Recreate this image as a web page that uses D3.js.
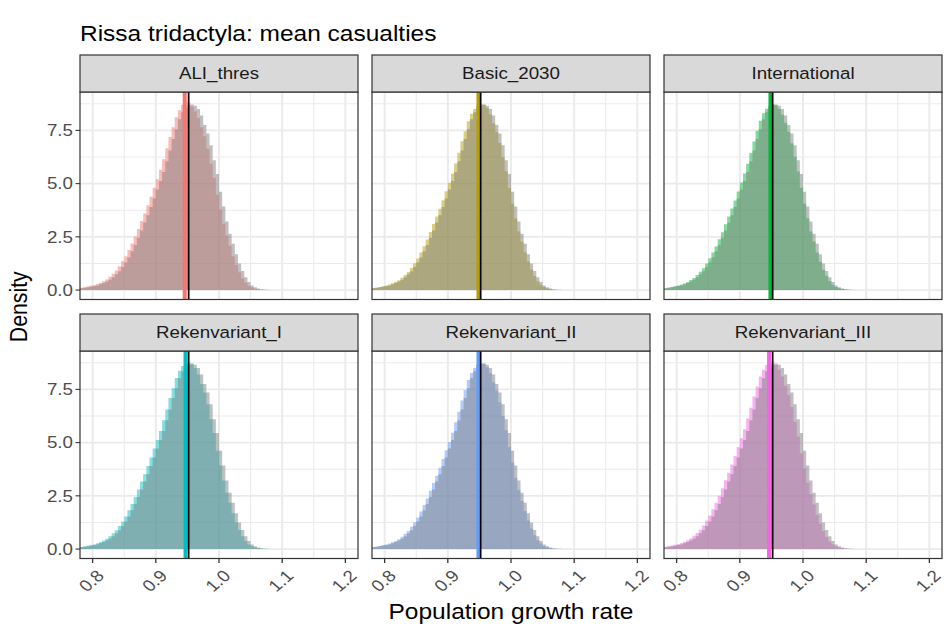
<!DOCTYPE html>
<html>
<head>
<meta charset="utf-8">
<script src="https://cdn.jsdelivr.net/npm/d3@7"></script>
<style>
  body { margin: 0; background: #ffffff; }
  text { font-family: "Liberation Sans", Arial, Helvetica, sans-serif; }
</style>
</head>
<body>
<svg id="chart" width="944" height="628"></svg>
<script>
// ---- data -----------------------------------------------------------
const scenarios = ["ALI_thres", "Basic_2030", "International",
                   "Rekenvariant_I", "Rekenvariant_II", "Rekenvariant_III"];
const scenarioColors = ["#F8766D", "#B79F00", "#00BA38", "#00BFC4", "#619CFF", "#F564E3"];

// histogram bins: first bin starts at binStart, all bins binWidth wide
const binStart = 0.78;
const binWidth = 0.005;

// density of the reference run (grey, drawn in every panel)
const baselineDensity = [
  0.08,0.10,0.13,0.16,0.19,0.22,0.27,0.33,0.40,0.48,
  0.60,0.74,0.88,1.08,1.30,1.53,1.82,2.12,2.45,2.80,
  3.17,3.52,3.90,4.30,4.72,5.12,5.55,6.05,6.55,7.10,
  7.55,8.02,8.35,8.55,8.68,8.72,8.66,8.50,8.20,7.75,
  7.35,6.80,6.10,5.45,4.62,3.92,3.22,2.65,2.18,1.68,
  1.25,0.90,0.60,0.38,0.22,0.13,0.07,0.04,0.02,0.01,0.005];

const aliThresDensity = [
  0.11,0.14,0.17,0.20,0.23,0.28,0.34,0.42,0.50,0.63,
  0.77,0.92,1.12,1.35,1.59,1.88,2.19,2.52,2.87,3.24,
  3.60,3.98,4.38,4.80,5.21,5.65,6.15,6.66,7.19,7.65,
  8.12,8.45,8.70,8.86,8.80,8.62,8.40,8.08,7.65,7.22,
  6.64,5.95,5.27,4.48,3.78,3.11,2.56,2.08,1.59,1.18,
  0.84,0.56,0.35,0.20,0.12,0.06,0.04,0.02,0.01,0.005,0.002];

const basic2030Density = [
  0.10,0.12,0.15,0.18,0.21,0.26,0.32,0.39,0.46,0.58,
  0.71,0.85,1.04,1.26,1.48,1.76,2.06,2.38,2.73,3.10,
  3.45,3.82,4.22,4.64,5.04,5.46,5.95,6.45,6.99,7.46,
  7.93,8.28,8.50,8.68,8.75,8.70,8.55,8.25,7.84,7.43,
  6.91,6.24,5.58,4.79,4.06,3.36,2.76,2.27,1.78,1.34,
  0.97,0.66,0.42,0.25,0.15,0.08,0.05,0.02,0.01,0.006,0.002];

const internationalDensity = [
  0.09,0.12,0.15,0.18,0.22,0.26,0.31,0.38,0.47,0.57,
  0.71,0.86,1.03,1.25,1.49,1.77,2.05,2.39,2.72,3.09,
  3.46,3.83,4.21,4.63,5.05,5.47,5.93,6.44,6.98,7.48,
  7.95,8.30,8.52,8.66,8.74,8.68,8.52,8.24,7.86,7.42,
  6.90,6.26,5.57,4.80,4.05,3.37,2.75,2.28,1.77,1.33,
  0.96,0.67,0.43,0.25,0.14,0.08,0.05,0.03,0.01,0.006,0.002];

const rekenvariant1Density = [
  0.10,0.13,0.16,0.19,0.22,0.27,0.33,0.40,0.48,0.60,
  0.74,0.88,1.08,1.30,1.53,1.82,2.12,2.45,2.80,3.17,
  3.52,3.90,4.30,4.72,5.12,5.55,6.05,6.55,7.10,7.55,
  8.04,8.38,8.60,8.76,8.78,8.68,8.50,8.20,7.75,7.35,
  6.80,6.10,5.45,4.62,3.92,3.22,2.65,2.18,1.68,1.25,
  0.90,0.60,0.38,0.22,0.13,0.07,0.04,0.02,0.01,0.005,0.002];

const rekenvariant2Density = [
  0.10,0.12,0.15,0.19,0.21,0.26,0.32,0.38,0.46,0.58,
  0.72,0.85,1.05,1.26,1.47,1.76,2.07,2.37,2.74,3.10,
  3.44,3.82,4.23,4.64,5.03,5.46,5.96,6.45,6.98,7.47,
  7.94,8.27,8.51,8.67,8.74,8.71,8.54,8.26,7.83,7.44,
  6.90,6.25,5.58,4.78,4.07,3.35,2.77,2.26,1.79,1.34,
  0.97,0.65,0.42,0.26,0.15,0.08,0.04,0.02,0.01,0.006,0.002];

const rekenvariant3Density = [
  0.11,0.14,0.17,0.20,0.23,0.28,0.34,0.41,0.50,0.62,
  0.76,0.91,1.11,1.34,1.58,1.87,2.18,2.51,2.86,3.23,
  3.59,3.97,4.37,4.79,5.20,5.63,6.13,6.64,7.17,7.63,
  8.10,8.42,8.66,8.82,8.80,8.64,8.42,8.10,7.67,7.24,
  6.67,5.98,5.29,4.50,3.80,3.12,2.57,2.09,1.60,1.19,
  0.85,0.57,0.35,0.21,0.12,0.06,0.04,0.02,0.01,0.005,0.002];

const scenarioDensities = [aliThresDensity, basic2030Density, internationalDensity,
                           rekenvariant1Density, rekenvariant2Density, rekenvariant3Density];

// mean growth rates (vertical lines)
const baselineMean = 0.952;
const scenarioMeans = [0.9457, 0.9485, 0.9485, 0.947, 0.9485, 0.9463];

const xLimits = [0.8, 1.2];
const xTicks = [0.8, 0.9, 1.0, 1.1, 1.2];
const xTickLabels = ["0.8", "0.9", "1.0", "1.1", "1.2"];
const xMinor = [0.85, 0.95, 1.05, 1.15];
const yTicks = [0, 2.5, 5, 7.5];
const yTickLabels = ["0.0", "2.5", "5.0", "7.5"];
const yMinor = [1.25, 3.75, 6.25, 8.75];

const titleText = "Rissa tridactyla: mean casualties";
const xTitle = "Population growth rate";
const yTitle = "Density";

// ---- layout ---------------------------------------------------------
const sx = 1.15;                 // horizontal text stretch
const colX = [80, 372, 664];
const panelW = 278;
const stripTop = [55, 314];
const stripH = 37;
const panelH = 207.5;
const smallFont = 16.3;
const bigFont = 21.3;
const ink = "#333333";
const tickInk = "#4D4D4D";
const gridCol = "#EBEBEB";

const svg = d3.select("#chart");

// shared scales (facets share both axes)
const xPad = (xLimits[1] - xLimits[0]) * 0.05;
const xDomain = [xLimits[0] - xPad, xLimits[1] + xPad];
const yMax = d3.max([baselineDensity, ...scenarioDensities], a => d3.max(a));
const yDomain = [-0.05 * yMax, 1.05 * yMax];

const defs = svg.append("defs");

scenarios.forEach((name, i) => {
  const row = Math.floor(i / 3), col = i % 3;
  const px = colX[col];
  const sTop = stripTop[row];
  const pTop = sTop + stripH;
  const pBot = pTop + panelH;

  const x = d3.scaleLinear().domain(xDomain).range([px, px + panelW]);
  const y = d3.scaleLinear().domain(yDomain).range([pBot, pTop]);

  const g = svg.append("g");

  // grid
  g.selectAll(null).data(xMinor).join("line")
    .attr("x1", d => x(d)).attr("x2", d => x(d)).attr("y1", pTop).attr("y2", pBot)
    .attr("stroke", gridCol).attr("stroke-width", 1.1);
  g.selectAll(null).data(yMinor).join("line")
    .attr("x1", px).attr("x2", px + panelW).attr("y1", d => y(d)).attr("y2", d => y(d))
    .attr("stroke", gridCol).attr("stroke-width", 1.0);
  g.selectAll(null).data(xTicks).join("line")
    .attr("x1", d => x(d)).attr("x2", d => x(d)).attr("y1", pTop).attr("y2", pBot)
    .attr("stroke", gridCol).attr("stroke-width", 2.0);
  g.selectAll(null).data(yTicks).join("line")
    .attr("x1", px).attr("x2", px + panelW).attr("y1", d => y(d)).attr("y2", d => y(d))
    .attr("stroke", gridCol).attr("stroke-width", 1.7);

  // clip for everything inside the panel
  const clipId = "clip" + i;
  defs.append("clipPath").attr("id", clipId)
    .append("rect").attr("x", px).attr("y", pTop).attr("width", panelW).attr("height", panelH);
  const inner = g.append("g").attr("clip-path", `url(#${clipId})`);

  const area = d3.area()
    .curve(d3.curveStepAfter)
    .x(d => x(d[0]))
    .y0(y(0))
    .y1(d => y(d[1]));
  const steps = dens => {
    const pts = dens.map((v, k) => [binStart + k * binWidth, v]);
    pts.push([binStart + dens.length * binWidth, dens[dens.length - 1]]);
    return pts;
  };

  inner.append("path").attr("d", area(steps(scenarioDensities[i])))
    .attr("fill", scenarioColors[i]).attr("fill-opacity", 0.5);
  inner.append("path").attr("d", area(steps(baselineDensity)))
    .attr("fill", "#808080").attr("fill-opacity", 0.5);

  inner.append("line")
    .attr("x1", x(scenarioMeans[i])).attr("x2", x(scenarioMeans[i]))
    .attr("y1", pTop).attr("y2", pBot)
    .attr("stroke", scenarioColors[i]).attr("stroke-width", 4);
  inner.append("line")
    .attr("x1", x(baselineMean)).attr("x2", x(baselineMean))
    .attr("y1", pTop).attr("y2", pBot)
    .attr("stroke", "#000000").attr("stroke-width", 1.7);

  // panel border
  g.append("rect").attr("x", px).attr("y", pTop).attr("width", panelW).attr("height", panelH)
    .attr("fill", "none").attr("stroke", ink).attr("stroke-width", 1.2);

  // strip
  g.append("rect").attr("x", px).attr("y", sTop).attr("width", panelW).attr("height", stripH)
    .attr("fill", "#D9D9D9").attr("stroke", ink).attr("stroke-width", 1.2);
  g.append("text")
    .attr("transform", `translate(${px + panelW / 2},${sTop + stripH / 2}) scale(${sx},1)`)
    .attr("text-anchor", "middle").attr("dy", "0.36em")
    .attr("font-size", smallFont).attr("fill", "#1A1A1A")
    .text(name);

  // y axis on the left column
  if (col === 0) {
    g.selectAll(null).data(yTicks).join("line")
      .attr("x1", px - 4.5).attr("x2", px).attr("y1", d => y(d)).attr("y2", d => y(d))
      .attr("stroke", ink).attr("stroke-width", 1.1);
    g.selectAll(null).data(yTicks).join("text")
      .attr("transform", d => `translate(${px - 7},${y(d)}) scale(${sx},1)`)
      .attr("text-anchor", "end").attr("dy", "0.36em")
      .attr("font-size", smallFont).attr("fill", tickInk)
      .text((d, k) => yTickLabels[k]);
  }

  // x axis on the bottom row
  if (row === 1) {
    g.selectAll(null).data(xTicks).join("line")
      .attr("x1", d => x(d)).attr("x2", d => x(d)).attr("y1", pBot).attr("y2", pBot + 4.5)
      .attr("stroke", ink).attr("stroke-width", 1.3);
    g.selectAll(null).data(xTicks).join("text")
      .attr("transform", d => `translate(${x(d) + 3},${pBot + 10}) scale(${sx},1) rotate(-45)`)
      .attr("text-anchor", "end").attr("dy", "0.72em")
      .attr("font-size", smallFont).attr("fill", tickInk)
      .text((d, k) => xTickLabels[k]);
  }
});

// titles
svg.append("text")
  .attr("transform", `translate(${colX[0]},41) scale(${sx},1)`)
  .attr("font-size", bigFont).attr("fill", "#000000")
  .text(titleText);

svg.append("text")
  .attr("transform", `translate(${(colX[0] + colX[2] + panelW) / 2},619) scale(${sx},1)`)
  .attr("text-anchor", "middle")
  .attr("font-size", bigFont).attr("fill", "#000000")
  .text(xTitle);

svg.append("text")
  .attr("transform", `translate(27,${(stripTop[0] + stripTop[1] + stripH + panelH) / 2}) scale(${sx},1) rotate(-90)`)
  .attr("text-anchor", "middle")
  .attr("font-size", bigFont).attr("fill", "#000000")
  .text(yTitle);
</script>
</body>
</html>
